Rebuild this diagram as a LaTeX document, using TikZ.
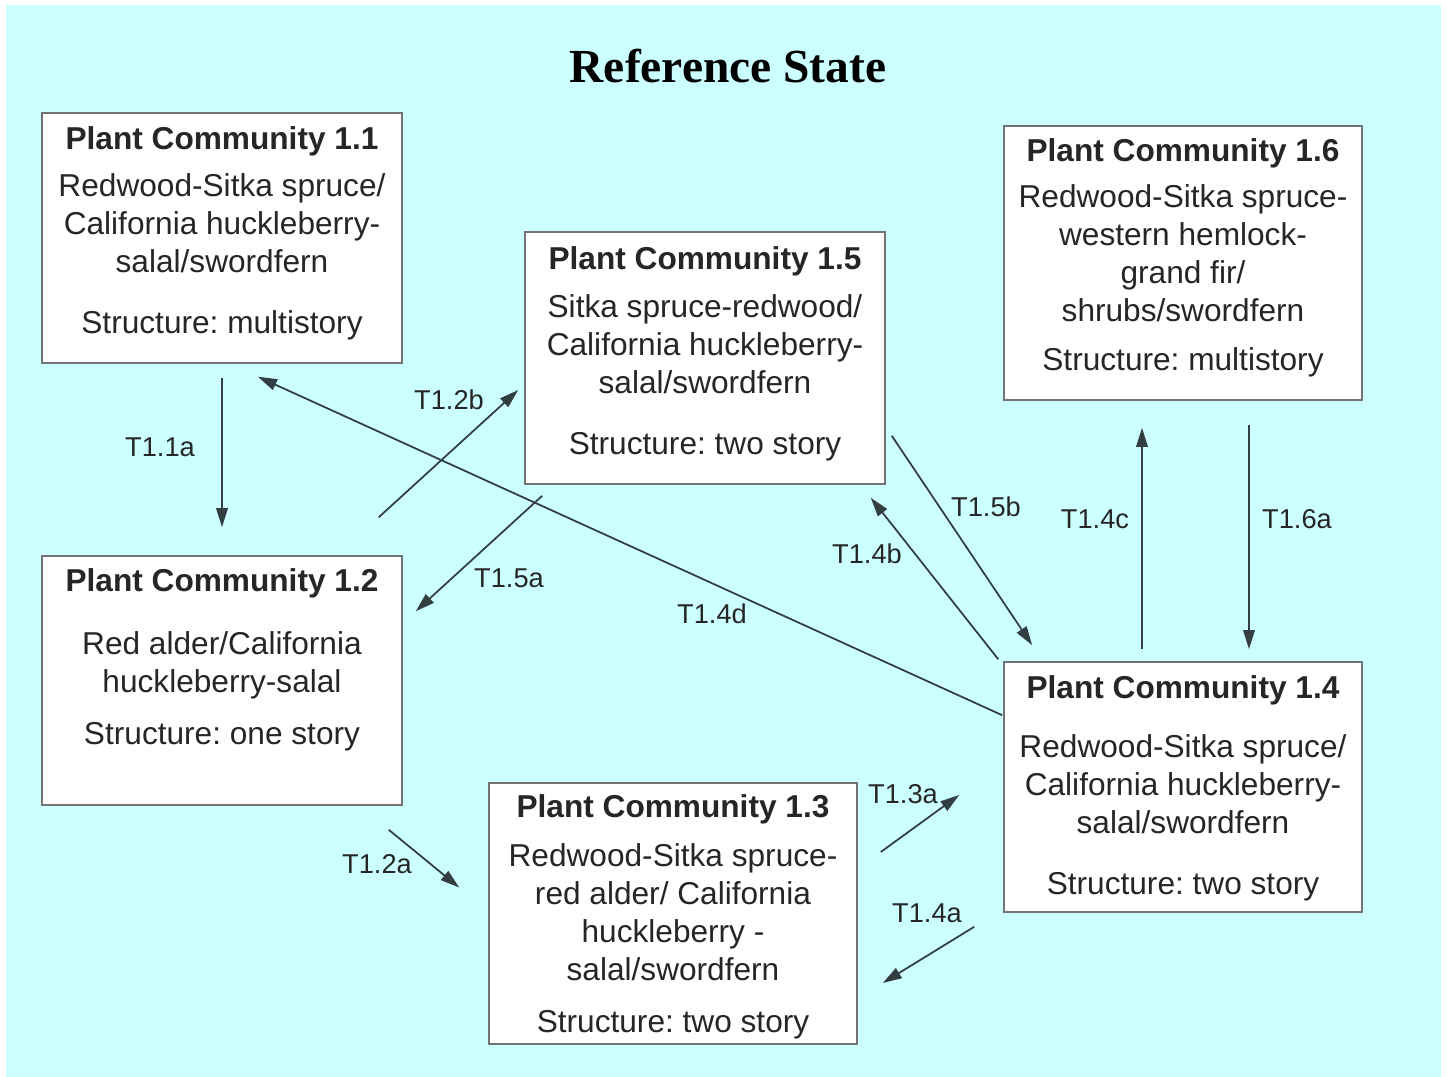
\documentclass[tikz,border=0pt]{standalone}
\usepackage{fontspec}
\setmainfont{Liberation Sans}
\newfontfamily\titlefont{Liberation Serif}
\usepackage{xcolor}
\usepackage{tikz}
\usetikzlibrary{arrows.meta,calc}
\definecolor{bgcyan}{RGB}{204,255,255}
\definecolor{linegray}{RGB}{50,62,66}
\frenchspacing

\begin{document}
\begin{tikzpicture}[x=0.2mm,y=-0.2mm,
    box/.style={draw=black!55,line width=0.9pt,fill=white,minimum width=72mm,minimum height=50mm,inner sep=0pt},
    boxtext/.style={align=center,inner sep=0pt,text=black!85,font=\fontsize{18}{21.6}\selectfont},
    trans/.style={draw=linegray,line width=1pt,-{Triangle[length=3.8mm,width=2.3mm]}},
    tlabel/.style={inner sep=0pt,text=black!85,font=\fontsize{15.5}{18}\selectfont}]
    \useasboundingbox (0,0) rectangle (1446,1077);
    \fill[white] (0,0) rectangle (1446,1077);
    \fill[bgcyan] (6,5) rectangle (1441,1077);

    \node[inner sep=0pt,font=\titlefont\bfseries\fontsize{27}{30}\selectfont] (title) at (728,66) {Reference State};

    \node[box] (pc11) at (222,238) {};
    \node[box,minimum height=50.4mm] (pc15) at (705,358) {};
    \node[box,minimum width=71.6mm,minimum height=54.8mm] (pc16) at (1183,263) {};
    \node[box,minimum height=49.8mm] (pc12) at (222,680.5) {};
    \node[box,minimum width=71.6mm] (pc14) at (1183,787) {};
    \node[box,minimum width=73.6mm,minimum height=52.2mm] (pc13) at (673,913.5) {};

    \node[boxtext] (pc11txt) at (222,233.5) {{\bfseries Plant Community 1.1}\\[5pt]
        Redwood-Sitka spruce/\\ California huckleberry-\\ salal/swordfern\\[13pt] Structure: multistory};
    \node[boxtext] (pc15txt) at (705,353.5) {{\bfseries Plant Community 1.5}\\[6pt]
        Sitka spruce-redwood/\\ California huckleberry-\\ salal/swordfern\\[13pt] Structure: two story};
    \node[boxtext] (pc16txt) at (1183,257.5) {{\bfseries Plant Community 1.6}\\[5pt]
        Redwood-Sitka spruce-\\ western hemlock-\\ grand fir/\\ shrubs/swordfern\\[6pt] Structure: multistory};
    \node[boxtext] (pc12txt) at (222,660) {{\bfseries Plant Community 1.2}\\[14pt]
        Red alder/California\\ huckleberry-salal\\[8pt] Structure: one story};
    \node[boxtext] (pc14txt) at (1183,788.5) {{\bfseries Plant Community 1.4}\\[12pt]
        Redwood-Sitka spruce/\\ California huckleberry-\\ salal/swordfern\\[13pt] Structure: two story};
    \node[boxtext] (pc13txt) at (673,917) {{\bfseries Plant Community 1.3}\\[6pt]
        Redwood-Sitka spruce-\\ red alder/ California\\ huckleberry -\\ salal/swordfern\\[8pt] Structure: two story};

    \draw[trans] ($(pc11.south)+(0,14)$) -- ($(pc12.north)+(0,-28)$);
    \draw[trans] ($(pc12.north east)+(-24,-38)$) -- ($(pc15.west)+(-6,32)$);
    \draw[trans] ($(pc15.south west)+(18,11)$) -- ($(pc12.north east)+(13,56)$);
    \draw[trans] ($(pc14.north west)+(-1,54)$) -- ($(pc11.south)+(36,13)$);
    \draw[trans] ($(pc15.south east)+(6,-49)$) -- ($(pc14.north west)+(29,-16)$);
    \draw[trans] ($(pc14.north west)+(-5,-2)$) -- ($(pc15.south east)+(-15,13)$);
    \draw[trans] ($(pc14.north)+(-41,-12)$) -- ($(pc16.south)+(-41,27)$);
    \draw[trans] ($(pc16.south)+(66,24)$) -- ($(pc14.north)+(66,-12)$);
    \draw[trans] ($(pc12.south east)+(-14,24)$) -- ($(pc13.west)+(-29,-26)$);
    \draw[trans] ($(pc13.east)+(23,-61.5)$) -- ($(pc14.west)+(-44,8)$);
    \draw[trans] ($(pc14.south west)+(-29,14)$) -- ($(pc13.east)+(25,69.5)$);

    \node[tlabel] (t11a) at (160,447) {T1.1a};
    \node[tlabel] (t12b) at (449,400) {T1.2b};
    \node[tlabel] (t15a) at (509,578) {T1.5a};
    \node[tlabel] (t14d) at (712,614) {T1.4d};
    \node[tlabel] (t15b) at (986,507) {T1.5b};
    \node[tlabel] (t14b) at (867,554) {T1.4b};
    \node[tlabel] (t14c) at (1095,519) {T1.4c};
    \node[tlabel] (t16a) at (1297,519) {T1.6a};
    \node[tlabel] (t12a) at (377,864) {T1.2a};
    \node[tlabel] (t13a) at (903,794) {T1.3a};
    \node[tlabel] (t14a) at (927,913) {T1.4a};
\end{tikzpicture}
\end{document}
